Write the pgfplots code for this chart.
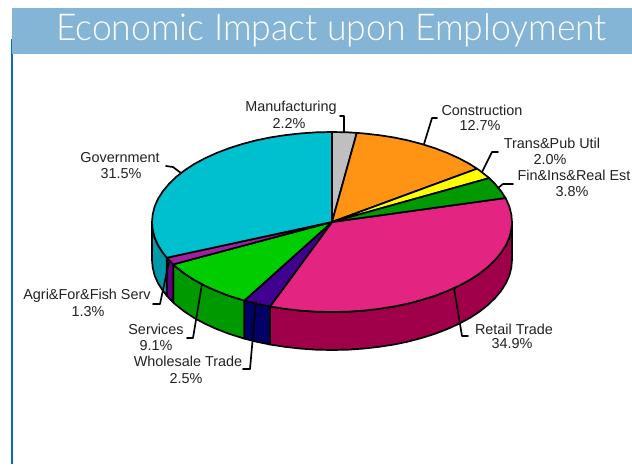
\documentclass[border=0pt]{standalone}
\usepackage{fontspec}
\usepackage{graphicx}
\setmainfont{Liberation Sans}
\newfontfamily\titlefont{Lato Light}
\usepackage{pgfplots}
\pgfplotsset{compat=1.18}
\definecolor{band}{HTML}{85B5D6}
\definecolor{rule}{HTML}{0B6CB0}
\definecolor{lab}{HTML}{222222}
\definecolor{tGov}{HTML}{00C0CF}
\definecolor{tMan}{HTML}{BFBFBF}
\definecolor{tCon}{HTML}{FF9414}
\definecolor{tTra}{HTML}{FFFF00}
\definecolor{tFin}{HTML}{009900}
\definecolor{tRet}{HTML}{E32480}
\definecolor{tWho}{HTML}{400090}
\definecolor{tSer}{HTML}{00CC00}
\definecolor{tAgr}{HTML}{A020A0}
\definecolor{wRet}{HTML}{A0004A}
\definecolor{wWho}{HTML}{000066}
\definecolor{wSer}{HTML}{009900}
\definecolor{wAgr}{HTML}{660080}
\definecolor{wGov}{HTML}{0099AA}
\tikzset{lbl/.style={font=\fontsize{14.4}{16}\selectfont, text=lab, inner sep=0pt, anchor=center, yshift=-0.8pt}}
\begin{document}
\begin{tikzpicture}
\begin{axis}[
  scale only axis, width=632pt, height=464pt,
  xmin=0, xmax=632, ymin=0, ymax=464, y dir=reverse,
  hide axis, clip=true,
  cycle list={{black,solid,mark=none}},
  every axis plot post/.append style={line width=1.7pt,line join=round,line cap=round},
]
% page
\addplot[fill=white, draw=none] coordinates {(0,0)(632,0)(632,464)(0,464)} -- cycle;
\addplot[fill=rule, draw=none] coordinates {(11,39)(13.2,39)(13.2,464)(11,464)} -- cycle;
\addplot[fill=band, draw=none] coordinates {(12,8)(632,8)(632,54)(12,54)} -- cycle;
% walls
\addplot+[fill=wRet] coordinates {(512,222)(511.3,229.8)(509.3,237.6)(505.9,245.3)(501.1,252.8)(495.1,260)(487.9,267)(479.5,273.6)(469.9,279.9)(459.3,285.6)(447.7,290.9)(435.2,295.7)(422,299.9)(408.1,303.6)(393.6,306.6)(378.6,308.9)(363.3,310.6)(347.7,311.7)(332,312)(316.3,311.7)(300.7,310.6)(285.4,308.9)(270.4,306.6)(270,306.5)
 (270,344.5)(270.4,344.6)(285.4,346.9)(300.7,348.6)(316.3,349.7)(332,350)(347.7,349.7)(363.3,348.6)(378.6,346.9)(393.6,344.6)(408.1,341.6)(422,337.9)(435.2,333.7)(447.7,328.9)(459.3,323.6)(469.9,317.9)(479.5,311.6)(487.9,305)(495.1,298)(501.1,290.8)(505.9,283.3)(509.3,275.6)(511.3,267.8)(512,260)} -- cycle;
\addplot+[fill=wWho] coordinates {(270,306.5)(255.9,303.6)(244.3,300.6)(244.3,338.6)(255.9,341.6)(270,344.5)} -- cycle;
\addplot+[fill=wSer] coordinates {(244.3,300.6)(242,299.9)(228.8,295.7)(216.3,290.9)(204.7,285.6)(194.1,279.9)(184.5,273.6)(176.1,267)(173.2,264.4)
 (173.2,302.4)(176.1,305)(184.5,311.6)(194.1,317.9)(204.7,323.6)(216.3,328.9)(228.8,333.7)(242,337.9)(244.3,338.6)} -- cycle;
\addplot+[fill=wAgr] coordinates {(173.2,264.4)(168.9,260)(166.8,257.7)(166.8,295.7)(168.9,298)(173.2,302.4)} -- cycle;
\addplot+[fill=wGov] coordinates {(166.8,257.7)(162.9,252.8)(158.1,245.3)(154.7,237.6)(152.7,229.8)(152,222)(152,260)(152.7,267.8)(154.7,275.6)(158.1,283.3)(162.9,290.8)(166.8,295.7)} -- cycle;
% top
\addplot+[fill=tRet] coordinates {(332,222)(505.5,198)(505.9,198.7)(509.3,206.4)(511.3,214.2)(512,222)(511.3,229.8)(509.3,237.6)(505.9,245.3)(501.1,252.8)(495.1,260)(487.9,267)(479.5,273.6)(469.9,279.9)(459.3,285.6)(447.7,290.9)(435.2,295.7)(422,299.9)(408.1,303.6)(393.6,306.6)(378.6,308.9)(363.3,310.6)(347.7,311.7)(332,312)(316.3,311.7)(300.7,310.6)(285.4,308.9)(270.4,306.6)(270,306.5)} -- cycle;
\addplot+[fill=tWho] coordinates {(332,222)(270,306.5)(255.9,303.6)(244.3,300.6)} -- cycle;
\addplot+[fill=tSer] coordinates {(332,222)(244.3,300.6)(242,299.9)(228.8,295.7)(216.3,290.9)(204.7,285.6)(194.1,279.9)(184.5,273.6)(176.1,267)(173.2,264.4)} -- cycle;
\addplot+[fill=tAgr] coordinates {(332,222)(173.2,264.4)(168.9,260)(166.8,257.7)} -- cycle;
\addplot+[fill=tGov] coordinates {(332,222)(166.8,257.7)(162.9,252.8)(158.1,245.3)(154.7,237.6)(152.7,229.8)(152,222)(152.7,214.2)(154.7,206.4)(158.1,198.7)(162.9,191.2)(168.9,184)(176.1,177)(184.5,170.4)(194.1,164.1)(204.7,158.4)(216.3,153.1)(228.8,148.3)(242,144.1)(255.9,140.4)(270.4,137.4)(285.4,135.1)(300.7,133.4)(316.3,132.3)(332,132)} -- cycle;
\addplot+[fill=tMan] coordinates {(332,222)(332,132)(347.7,132.3)(356.8,132.9)} -- cycle;
\addplot+[fill=tCon] coordinates {(332,222)(356.8,132.9)(363.3,133.4)(378.6,135.1)(393.6,137.4)(408.1,140.4)(422,144.1)(435.2,148.3)(447.7,153.1)(459.3,158.4)(469.9,164.1)(477,168.7)} -- cycle;
\addplot+[fill=tTra] coordinates {(332,222)(477,168.7)(479.5,170.4)(487.9,177)(489.2,178.1)} -- cycle;
\addplot+[fill=tFin] coordinates {(332,222)(489.2,178.1)(495.1,184)(501.1,191.2)(505.5,198)} -- cycle;
% leaders
\addplot coordinates {(344,132)(344,116)(340,116)};
\addplot coordinates {(424,144)(432,118)(437,118)};
\addplot coordinates {(482,172)(492,152)(498,152)};
\addplot coordinates {(498,188)(503,184)(513,184)};
\addplot coordinates {(181,173)(173,167)(166,166)};
\addplot coordinates {(169,262)(160,304)(153,304)};
\addplot coordinates {(202,284)(193,338)(187,338)};
\addplot coordinates {(256,302)(250,369)(243,369)};
\addplot coordinates {(454,288)(462,336)(468,336)};
% labels
\node[inner sep=0pt, text=white] at (axis cs:331.5,30) {\scalebox{0.96}[1]{\titlefont\fontsize{37}{40}\selectfont Economic Impact upon Employment}};
\node[lbl] at (axis cs:291,107) {Manufacturing};
\node[lbl] at (axis cs:289,123) {2.2\%};
\node[lbl] at (axis cs:482,110) {Construction};
\node[lbl] at (axis cs:480,125) {12.7\%};
\node[lbl] at (axis cs:552,143) {Trans\&Pub Util};
\node[lbl] at (axis cs:550,159) {2.0\%};
\node[lbl] at (axis cs:574,175) {Fin\&Ins\&Real Est};
\node[lbl] at (axis cs:572,191) {3.8\%};
\node[lbl] at (axis cs:120,157) {Government};
\node[lbl] at (axis cs:121,173) {31.5\%};
\node[lbl] at (axis cs:87,295) {Agri\&For\&Fish Serv};
\node[lbl] at (axis cs:88,311) {1.3\%};
\node[lbl] at (axis cs:156,329) {Services};
\node[lbl] at (axis cs:156,345) {9.1\%};
\node[lbl] at (axis cs:188,361) {Wholesale Trade};
\node[lbl] at (axis cs:186,378) {2.5\%};
\node[lbl] at (axis cs:514,329) {Retail Trade};
\node[lbl] at (axis cs:512,343) {34.9\%};
\end{axis}
\end{tikzpicture}
\end{document}
